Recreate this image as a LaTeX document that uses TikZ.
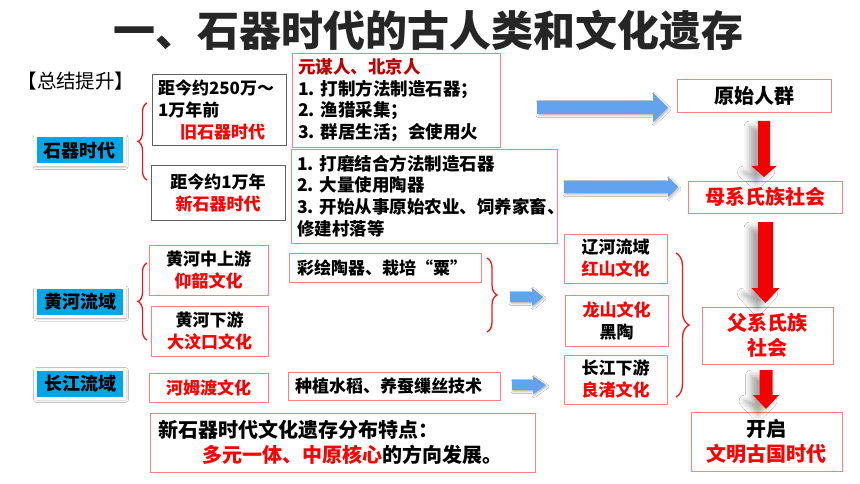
\documentclass[tikz,border=0pt]{standalone}
\usepackage{fontspec}
\setmainfont{Noto Sans CJK SC}
\usetikzlibrary{decorations.pathreplacing,shadows.blur}
\definecolor{boxred}{HTML}{FF7F85}
\definecolor{boxgray}{HTML}{606060}
\definecolor{tagblue}{HTML}{00A6E6}
\definecolor{arrblue}{HTML}{62A2EE}
\definecolor{arrred}{HTML}{F50000}
\definecolor{darkred}{HTML}{C00000}
\definecolor{titlegray}{HTML}{262626}
\definecolor{txtred}{HTML}{FF0000}
\definecolor{bracered}{HTML}{F01818}
\tikzset{
  basebox/.style={line width=0.8pt, inner sep=0pt, font=\bfseries\fontsize{17}{22}\selectfont},
  rbox/.style={basebox, draw=boxred},
  gbox/.style={basebox, draw=boxgray},
  lefttext/.style={align=left, inner xsep=7pt},
  bigtext/.style={font=\bfseries\fontsize{20}{25}\selectfont},
  tagbox/.style={fill=tagblue, draw=white, line width=3pt, minimum width=89pt, minimum height=29pt,
    inner sep=0pt, font=\bfseries\fontsize{18}{18}\selectfont,
    blur shadow={shadow xshift=1pt, shadow yshift=-1.5pt, shadow blur radius=3pt, shadow opacity=40}},
  redbrace/.style={draw=bracered, line width=1.3pt, decorate, decoration={brace, amplitude=#1}},
  bluearr/.style={fill=arrblue, blur shadow={shadow xshift=1pt, shadow yshift=-1.5pt, shadow blur radius=2pt, shadow opacity=30}},
  redarr/.style={fill=arrred, blur shadow={shadow xshift=-8pt, shadow yshift=-6pt, shadow blur radius=6pt, shadow opacity=35}}
}
% right-pointing block arrow: tail x, tip x, centre y, body half, head half, head start x
\newcommand\bluearrowR[6]{\fill[bluearr] (#1,#3-#4) -- (#6,#3-#4) -- (#6,#3-#5) -- (#2,#3) -- (#6,#3+#5) -- (#6,#3+#4) -- (#1,#3+#4) -- cycle;}
% down-pointing block arrow: centre x, top y, tip y, body half, head half, head start y
\newcommand\redarrowD[6]{\fill[redarr] (#1-#4,#2) -- (#1-#4,#6) -- (#1-#5,#6) -- (#1,#3) -- (#1+#5,#6) -- (#1+#4,#6) -- (#1+#4,#2) -- cycle;}
\begin{document}
\begin{tikzpicture}[x=1pt,y=-1pt]
\fill[white] (0,0) rectangle (860,484);
\useasboundingbox (0,0) rectangle (860,484);

% title
\node[font=\bfseries\fontsize{42}{42}\selectfont, text=titlegray] (title) at (428.5,30) {一、石器时代的古人类和文化遗存};
\node[font=\fontsize{19.5}{19.5}\selectfont] (zongjie) at (76,81) {【总结提升】};

% blue tags
\node[tagbox] (shiqi) at (79.5,150.5) {石器时代};
\node[tagbox] (huanghe) at (80,302) {黄河流域};
\node[tagbox] (changjiang) at (80,383.5) {长江流域};

% braces
\draw[redbrace=9pt] (147,180) -- (147,103);
\draw[redbrace=9pt] (147,340) -- (147,263);
\draw[redbrace=10pt] (487,258) -- (487,332);
\draw[redbrace=13pt] (676,253) -- (676,397);

% stone age boxes
\node[gbox, lefttext, inner xsep=6pt, text width=122pt, minimum height=71pt] (old) at (219,109.5)
  {距今约250万～\\1万年前\\\hspace*{22pt}\textcolor{txtred}{旧石器时代}};
\node[gbox, align=center, minimum width=134pt, minimum height=55pt] (new) at (218,192.5)
  {距今约1万年\\\textcolor{txtred}{新石器时代}};
\node[rbox, lefttext, inner xsep=6pt, text width=196pt, minimum height=94pt, font=\bfseries\fontsize{17.5}{21.7}\selectfont] (paleo) at (396,100)
  {\textcolor{darkred}{元谋人、北京人}\\1.~打制方法制造石器；\\2.~渔猎采集；\\3.~群居生活；会使用火};
\node[rbox, lefttext, inner xsep=6pt, text width=254pt, minimum height=94pt, font=\bfseries\fontsize{17.5}{21.7}\selectfont] (neo) at (424,196)
  {1.~打磨结合方法制造石器\\2.~大量使用陶器\\3.~开始从事原始农业、饲养家畜、\\修建村落等};

% Yellow River / Yangtze boxes
\node[rbox, align=center, minimum width=119pt, minimum height=50pt] (yangshao) at (208.5,270)
  {黄河中上游\\\textcolor{txtred}{仰韶文化}};
\node[rbox, align=center, minimum width=117pt, minimum height=50pt] (dawenkou) at (209.5,331)
  {黄河下游\\\textcolor{txtred}{大汶口文化}};
\node[rbox, align=center, minimum width=119pt, minimum height=29pt] (hemudu) at (208.5,387.5)
  {\textcolor{txtred}{河姆渡文化}};
\node[rbox, lefttext, inner xsep=8pt, text width=176pt, minimum height=29pt] (caihui) at (385,267.5)
  {彩绘陶器、栽培“粟”};
\node[rbox, lefttext, text width=198pt, minimum height=28pt] (daozuo) at (394,386)
  {种植水稻、养蚕缫丝技术};
\node[rbox, align=center, minimum width=103pt, minimum height=49pt] (hongshan) at (615.5,258.5)
  {辽河流域\\\textcolor{txtred}{红山文化}};
\node[rbox, align=center, minimum width=103pt, minimum height=51pt] (longshan) at (616.5,320.5)
  {\textcolor{txtred}{龙山文化}\\黑陶};
\node[rbox, align=center, minimum width=103pt, minimum height=49pt] (liangzhu) at (615.5,379.5)
  {长江下游\\\textcolor{txtred}{良渚文化}};

% right column
\node[rbox, bigtext, minimum width=154pt, minimum height=33pt] (qunti) at (754,95.5) {原始人群};
\node[rbox, bigtext, text=txtred, minimum width=154pt, minimum height=32pt] (muxi) at (765,197) {母系氏族社会};
\node[rbox, bigtext, text=txtred, align=center, minimum width=131pt, minimum height=57pt] (fuxi) at (767.5,335.5) {父系氏族\\社会};
\node[rbox, bigtext, align=center, minimum width=151pt, minimum height=59pt] (wenming) at (766.5,441.5)
  {开启\\\textcolor{txtred}{文明古国时代}};

% summary
\node[rbox, bigtext, lefttext, inner xsep=8pt, text width=369pt, minimum height=59pt] (summary) at (342.5,442.5)
  {新石器时代文化遗存分布特点：\\\hspace*{44pt}\textcolor{txtred}{多元一体、中原核心}的方向发展。};

% blue arrows
\bluearrowR{537}{668}{107.5}{6.5}{14.5}{653}
\bluearrowR{564}{678}{187}{6}{10}{668}
\bluearrowR{510}{543}{297}{5}{9}{532}
\bluearrowR{512}{546}{385}{5}{9}{533}

% red arrows
\redarrowD{764}{121}{177}{6}{12.5}{166}
\redarrowD{765.5}{222}{303}{7.5}{14}{288}
\redarrowD{766}{370}{409}{6.5}{13}{395}
\end{tikzpicture}
\end{document}
